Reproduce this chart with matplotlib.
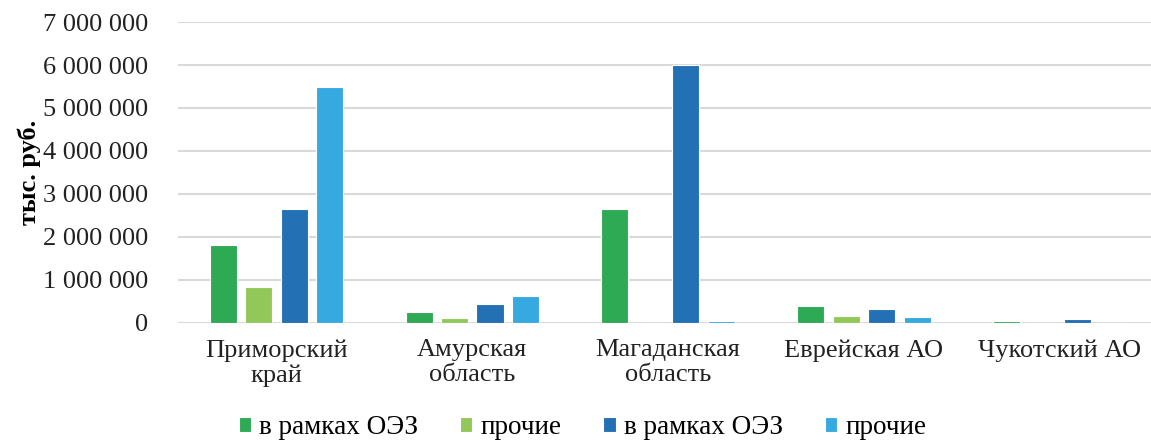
import matplotlib
matplotlib.use("Agg")
import matplotlib.pyplot as plt
from matplotlib.ticker import FuncFormatter
import numpy as np

plt.rcParams["font.family"] = ["Liberation Serif", "DejaVu Serif"]

categories = ["Приморский\nкрай", "Амурская\nобласть", "Магаданская\nобласть",
              "Еврейская АО", "Чукотский АО"]
series_names = ["в рамках ОЭЗ", "прочие", "в рамках ОЭЗ", "прочие"]
oez_1 = [1800000, 260000, 2650000, 400000, 50000]
other_1 = [840000, 110000, 0, 150000, 0]
oez_2 = [2650000, 430000, 6000000, 320000, 100000]
other_2 = [5490000, 630000, 50000, 140000, 0]
colors = ["#2EAA55", "#92C85A", "#2470B4", "#36A9E0"]

fig = plt.figure(figsize=(11.51, 4.41), dpi=100)
# the plot area runs a bit past the right edge, as in the source
ax = fig.add_axes([0.155, 0.268, 0.851, 0.682])

x = np.arange(len(categories))
step = 0.181
width = 0.138
for i, (vals, name, c) in enumerate(zip([oez_1, other_1, oez_2, other_2], series_names, colors)):
    ax.bar(x + (i - 1.5) * step, vals, width, color=c, label=name,
           edgecolor="white", linewidth=0.8, zorder=3)

ax.set_xlim(-0.5, len(categories) - 0.5)
ax.set_ylim(0, 7000000)
ax.set_yticks(np.arange(0, 7000001, 1000000))
ax.yaxis.set_major_formatter(FuncFormatter(lambda v, p: "{:,.0f}".format(v).replace(",", " ")))
ax.grid(axis="y", color="#D9D9D9", linewidth=1.5, zorder=0)
for s in ax.spines.values():
    s.set_visible(False)
ax.tick_params(axis="both", length=0, colors="#222222")
ax.tick_params(axis="y", pad=22, labelsize=19)
ax.tick_params(axis="x", pad=12, labelsize=19)
ax.set_xticks(x)
ax.set_xticklabels(categories, linespacing=1.15)
ax.set_ylabel("тыс. руб.", fontsize=19, fontweight="bold", labelpad=1)

fig.legend(loc="center", ncol=4, bbox_to_anchor=(0.506, 0.03), frameon=False,
           fontsize=19.5, handlelength=0.45, handleheight=0.45, handletextpad=0.3,
           columnspacing=1.55)

fig.savefig("out.png", dpi=100)
